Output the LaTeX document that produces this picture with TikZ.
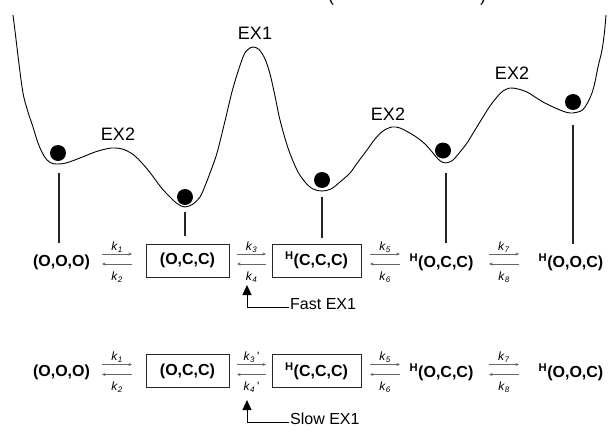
\documentclass[tikz,border=0pt]{standalone}
\usepackage{fontspec}
\setmainfont{Liberation Sans}
\usetikzlibrary{arrows.meta}
\newcommand{\rxnpair}[6]{%
  \coordinate (#1ul) at (#2,#4-7);
  \coordinate (#1ur) at (#3,#4-7);
  \coordinate (#1ll) at (#2,#4+3);
  \coordinate (#1lr) at (#3,#4+3);
  \draw[rxn] (#1ul) -- (#1ur);
  \draw[rxn] (#1lr) -- (#1ll);
  \node[klab] (#1up) at ({(#2+#3)/2},#4-14) {#5};
  \node[klab] (#1dn) at ({(#2+#3)/2},#4+16) {#6};
}
\newcommand{\kk}[1]{\textit{k}\textsubscript{\textit{#1}}}
\newcommand{\kp}[1]{\textit{k}\textsubscript{\textit{#1}}\,\textquotesingle}
\begin{document}
\begin{tikzpicture}[x=1pt,y=-1pt,
  state/.style={font=\fontsize{16}{16}\selectfont\bfseries, inner sep=0pt},
  boxed/.style={state, draw=black!85, line width=1pt, minimum height=33pt},
  rxn/.style={draw=gray!80!black, line width=0.6pt, -{Stealth[length=3.5pt,width=3pt]}},
  klab/.style={font=\fontsize{12}{12}\selectfont, inner sep=0pt},
  exlab/.style={font=\fontsize{18}{18}\selectfont, inner sep=0pt},
  note/.style={font=\fontsize{16}{16}\selectfont, inner sep=0pt, anchor=base west},
  ptr/.style={line width=1pt, -{Triangle[length=10pt,width=9pt]}},
  vline/.style={line width=1.8pt, draw=black!85, dash pattern=on 0.6pt off 0.35pt},
  ball/.style={circle, fill=black, inner sep=0pt, minimum size=16pt}]
\path[use as bounding box, clip] (0,0) rectangle (608,434);
\fill[white] (0,0) rectangle (608,434);
% cut-off title parentheses
\node[exlab, anchor=base] (tl) at (331,1.5) {(};
\node[exlab, anchor=base] (tr) at (483,1.5) {)};
% energy landscape
\draw[line width=0.9pt, line join=round] plot[smooth, tension=0.55] coordinates {
 (13,15) (15.5,35) (18.5,60) (23,93) (28,112) (33,127) (38,143) (44,156) (50,162.5) (57,164)
 (66,163) (80,158) (95,152) (108,148.5) (115,148) (124,149.5) (135,156) (148,170) (160,186)
 (167,194) (177,203.5) (185,207) (193,204) (200,197) (205,186) (210,173) (217,153) (225,121)
 (233,88) (243,57) (248,49.5) (253,47) (259,49.5) (265,59) (270,74) (275,96) (280,120)
 (288,148) (297,170) (305,182) (313,189) (322,191) (331,189) (340,182) (350,173) (358,162)
 (367,150) (375,139) (383,131) (392,127) (400,128) (408,132) (417,137.5) (425,144) (433,153)
 (438,159) (443,162.5) (448,162.5) (453,160) (460,152) (467,143) (475,130) (483,117) (490,106)
 (497,97) (503,91) (510,88) (518,89) (527,92) (535,97) (543,102) (552,106.5) (560,110)
 (567,112.5) (573,113) (578,112) (583,109.5) (588,102) (592,93) (595,82) (598,67) (602,50)
 (604.5,32) (606,15)};
% balls
\node[ball] (b1) at (58,153) {};
\node[ball] (b2) at (185,197) {};
\node[ball] (b3) at (322,180) {};
\node[ball] (b4) at (443,150.5) {};
\node[ball] (b5) at (573,102) {};
% barrier labels
\node[exlab] (ex2a) at (118,134) {EX2};
\node[exlab] (ex1) at (255,33) {EX1};
\node[exlab] (ex2b) at (388,114) {EX2};
\node[exlab] (ex2c) at (512,73) {EX2};
% vertical guide lines
\coordinate (v1t) at (59,173);  \coordinate (v1b) at (59,243);
\coordinate (v2t) at (185,212); \coordinate (v2b) at (185,235);
\coordinate (v3t) at (322,197); \coordinate (v3b) at (322,237);
\coordinate (v4t) at (446,173); \coordinate (v4b) at (446,243);
\coordinate (v5t) at (573,125); \coordinate (v5b) at (573,243);
\draw[vline] (v1t) -- (v1b);
\draw[vline] (v2t) -- (v2b);
\draw[vline] (v3t) -- (v3b);
\draw[vline] (v4t) -- (v4b);
\draw[vline] (v5t) -- (v5b);
% row 1
\node[state] (a1) at (61.5,262) {(O,O,O)};
\node[boxed, minimum width=83pt] (a2) at (187.5,260.5) {(O,C,C)};
\node[boxed, minimum width=89pt] (a3) at (316.5,260.5) {\textsuperscript{H}(C,C,C)};
\node[state] (a4) at (441.5,262) {\textsuperscript{H}(O,C,C)};
\node[state] (a5) at (571,262) {\textsuperscript{H}(O,O,C)};
\rxnpair{ra}{102}{132}{261}{\kk{1}}{\kk{2}}
\rxnpair{rb}{237}{266}{261}{\kk{3}}{\kk{4}}
\rxnpair{rc}{370}{400}{261}{\kk{5}}{\kk{6}}
\rxnpair{rd}{489}{519}{261}{\kk{7}}{\kk{8}}
% row 2
\node[state] (c1) at (61.5,372.5) {(O,O,O)};
\node[boxed, minimum width=83pt] (c2) at (187.5,371) {(O,C,C)};
\node[boxed, minimum width=89pt] (c3) at (316.5,371) {\textsuperscript{H}(C,C,C)};
\node[state] (c4) at (441.5,372.5) {\textsuperscript{H}(O,C,C)};
\node[state] (c5) at (571,372.5) {\textsuperscript{H}(O,O,C)};
\rxnpair{sa}{102}{132}{371.5}{\kk{1}}{\kk{2}}
\rxnpair{sb}{237}{266}{371.5}{\kp{3}}{\kp{4}}
\rxnpair{sc}{370}{400}{371.5}{\kk{5}}{\kk{6}}
\rxnpair{sd}{489}{519}{371.5}{\kk{7}}{\kk{8}}
% fast / slow pointers
\node[note] (fast) at (290,309.5) {Fast EX1};
\node[note] (slow) at (290,424.5) {Slow EX1};
\coordinate (ftip) at (247,285);
\coordinate (stip) at (247,400);
\coordinate (fst) at (289,307);
\coordinate (sst) at (289,422);
\draw[ptr] (fst) -| (ftip);
\draw[ptr] (sst) -| (stip);
\end{tikzpicture}
\end{document}
